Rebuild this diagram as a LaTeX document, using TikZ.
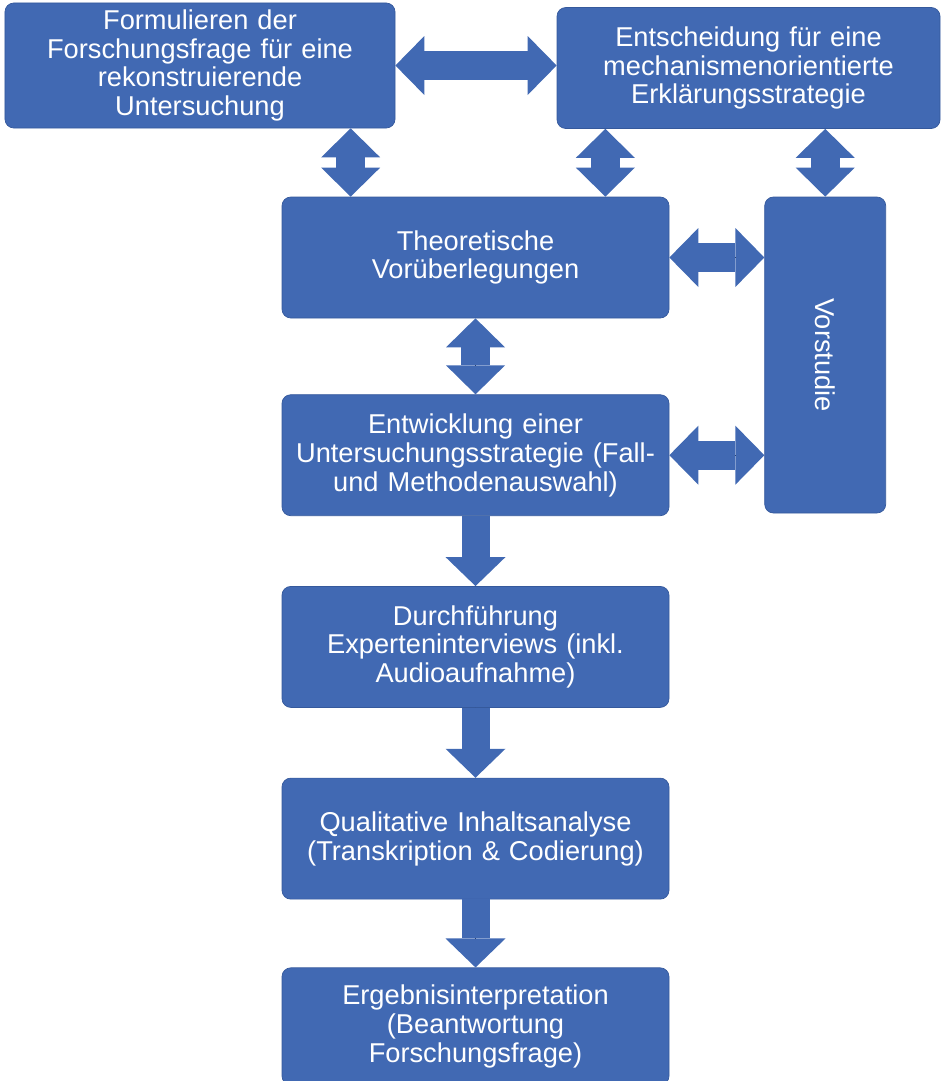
\documentclass[tikz,border=0pt]{standalone}
\usepackage{fontspec}
\setmainfont{Liberation Sans}
\usepackage{tikz}
\usetikzlibrary{arrows.meta,positioning,calc}
\definecolor{fsBlue}{HTML}{4169B3}
\definecolor{fsEdge}{HTML}{35599C}
\tikzset{
  % Blue step box
  stepbox/.style={rectangle,rounded corners=5pt,
    minimum width=7.74cm,minimum height=2.42cm,
    text width=7.4cm,align=center,inner sep=0pt,
    draw=fsEdge,fill=fsBlue,text=white,
    font=\fontsize{15.5}{16.4}\selectfont},
  % Tall side box
  sidebox/.style={stepbox,minimum width=2.42cm,minimum height=6.32cm,
    text width={}},
  % Block arrows
  blkarr/.style={-{Triangle[width=1.2cm,length=0.58cm,line width=0pt]},
    line width=0.56cm,draw=fsBlue,
    preaction={draw,-,shorten >=0.5cm}},
  dblarr/.style={{Triangle[width=1.18cm,length=0.58cm,line width=0pt]}-{Triangle[width=1.18cm,length=0.58cm,line width=0pt]},
    line width=0.58cm,draw=fsBlue,
    preaction={draw,-,shorten >=0.5cm,shorten <=0.5cm}},
}
\begin{document}
\begin{tikzpicture}[node distance=1.4cm]
  \useasboundingbox (0,0) rectangle (18.86,-21.62);

  %% --- TOP ROW ---
  \node[stepbox,minimum width=7.8cm,minimum height=2.5cm] (frage) at (4.0,-1.31)
    {Formulieren der\\Forschungsfrage für eine\\rekonstruierende\\Untersuchung};
  \node[stepbox,minimum width=7.66cm] (strat) at (14.97,-1.36)
    {Entscheidung für eine\\mechanismenorientierte\\Erklärungsstrategie};

  %% --- MAIN COLUMN ---
  \node[stepbox] (theo) at (9.51,-5.15)
    {Theoretische\\Vorüberlegungen};
  \node[stepbox,below=1.52cm of theo] (entw)
    {Entwicklung einer\\Untersuchungsstrategie (Fall-\\und Methodenauswahl)};
  \node[stepbox,below=of entw] (durch)
    {Durchführung\\Experteninterviews (inkl.\\Audioaufnahme)};
  \node[stepbox,below=of durch] (quali)
    {Qualitative Inhaltsanalyse\\(Transkription \& Codierung)};
  \node[stepbox,below=1.36cm of quali,minimum height=2.34cm] (ergeb)
    {Ergebnisinterpretation\\(Beantwortung\\Forschungsfrage)};

  %% --- SIDE BOX ---
  \node[sidebox,right=1.9cm of theo.north east,anchor=north west] (vor)
    {\rotatebox{-90}{Vorstudie}};

  %% --- double arrows ---
  \draw[dblarr] (frage.east) -- (frage.east -| strat.west);
  \draw[dblarr] ([xshift=1.38cm]theo.north west) -- ([xshift=1.38cm]theo.north west |- frage.south);
  \draw[dblarr] ([xshift=-1.28cm]theo.north east) -- ([xshift=-1.28cm]theo.north east |- strat.south);
  \draw[dblarr] (vor.north) -- (vor.north |- strat.south);
  \draw[dblarr] (theo.east) -- (theo.east -| vor.west);
  \draw[dblarr] (entw.east) -- (entw.east -| vor.west);
  \draw[dblarr] (theo.south) -- (entw.north);

  %% --- single arrows ---
  \draw[blkarr] (entw) -- (durch);
  \draw[blkarr] (durch) -- (quali);
  \draw[blkarr] (quali) -- (ergeb);
\end{tikzpicture}
\end{document}
